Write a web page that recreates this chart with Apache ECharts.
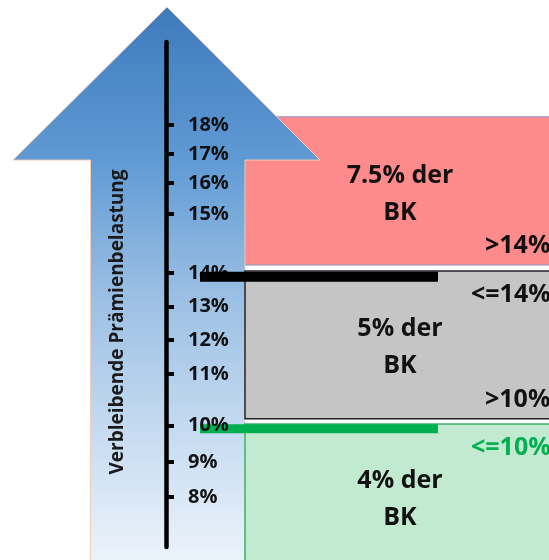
<!DOCTYPE html>
<html>
<head>
<meta charset="utf-8">
<script src="https://cdn.jsdelivr.net/npm/echarts@6/dist/echarts.min.js"></script>
<style>
html,body{margin:0;padding:0;background:#fff;}
#chart{width:549px;height:560px;}
</style>
</head>
<body>
<div id="chart"></div>
<script>
// ---- data ----
const tickLabels = ['8%','9%','10%','11%','12%','13%','14%','15%','16%','17%','18%'];
const tickLevels = [7.95, 8.90, 9.88, 11.28, 12.20, 13.10, 14.01, 15.61, 16.45, 17.23, 18.02];
const gaugeRange = [6.60, 20.26];

const boxText = ['7.5% der\nBK', '5% der\nBK', '4% der\nBK'];
const boxTop = [18.24, 14.07, 9.93];
const boxBottom = [14.23, 10.07, 6.03];
const upperLabels = ['', '<=14%', '<=10%'];
const lowerLabels = ['>14%', '>10%', ''];

const thresholdLevels = [13.91, 9.80];
const barSpan = [200, 438];
const boxSpan = [245, 555];

const arrowX = [13, 90.5, 167, 245, 320];
const arrowLevels = [21.21, 17.07, 6.0];

const axisTitle = 'Verbleibende Prämienbelastung';

// ---- styles ----
const FONT = '"Open Sans", "Noto Sans", sans-serif';
const boxFill = ['#fe8b8b', '#c5c5c5', '#c2ead1'];
const boxStroke = ['#8c96c8', '#222222', '#3cb26a'];
const boxLineW = [1, 1.5, 1.5];
const upperColor = ['#111', '#111', '#00b050'];

const chart = echarts.init(document.getElementById('chart'), null, {renderer: 'canvas'});

function renderBox(params, api) {
  const i = api.value(0);
  const p0 = api.coord([boxSpan[0], boxTop[i]]);
  const p1 = api.coord([boxSpan[1], boxBottom[i]]);
  const cx = (p0[0] + p1[0]) / 2, cy = (p0[1] + p1[1]) / 2 + 3;
  const children = [{
    type: 'rect',
    shape: {x: p0[0], y: p0[1], width: p1[0] - p0[0], height: p1[1] - p0[1]},
    style: {fill: boxFill[i], stroke: boxStroke[i], lineWidth: boxLineW[i]}
  }, {
    type: 'text',
    style: {text: boxText[i], x: cx, y: cy, align: 'center', verticalAlign: 'middle',
      fontFamily: FONT, fontWeight: 700, fontSize: 25, lineHeight: 37, fill: '#111'}
  }];
  if (upperLabels[i]) {
    children.push({type: 'text', style: {text: upperLabels[i], x: p0[0] + 226, y: p0[1] + 24,
      align: 'left', verticalAlign: 'middle', fontFamily: FONT, fontWeight: 700, fontSize: 25, fill: upperColor[i]}});
  }
  if (lowerLabels[i]) {
    children.push({type: 'text', style: {text: lowerLabels[i], x: p0[0] + 240, y: p1[1] - 19,
      align: 'left', verticalAlign: 'middle', fontFamily: FONT, fontWeight: 700, fontSize: 25, fill: '#111'}});
  }
  return {type: 'group', children};
}

function renderArrow(params, api) {
  const pts = [
    [arrowX[2], arrowLevels[0]],
    [arrowX[4], arrowLevels[1]],
    [arrowX[3], arrowLevels[1]],
    [arrowX[3], arrowLevels[2]],
    [arrowX[1], arrowLevels[2]],
    [arrowX[1], arrowLevels[1]],
    [arrowX[0], arrowLevels[1]]
  ].map(p => api.coord(p));
  return {
    type: 'polygon',
    shape: {points: pts},
    style: {
      fill: new echarts.graphic.LinearGradient(0, 0, 0, 1, [
        {offset: 0, color: '#3e79bc'},
        {offset: 0.27, color: '#5f9ad4'},
        {offset: 0.5, color: '#98bde3'},
        {offset: 0.78, color: '#cadef2'},
        {offset: 1, color: '#eef4fb'}
      ]),
      stroke: '#f2cdb8', lineWidth: 1
    }
  };
}

function nearestLabel(v) {
  let best = 0, d = Infinity;
  tickLevels.forEach((t, i) => { const dd = Math.abs(t - v); if (dd < d) { d = dd; best = i; } });
  return tickLabels[best];
}

const option = {
  animation: false,
  backgroundColor: '#ffffff',
  grid: [
    {left: 0, top: 0, width: 549, height: 560},
    {left: 166, top: 42, width: 20, height: 505}
  ],
  xAxis: [
    {gridIndex: 0, type: 'value', min: 0, max: 549, show: false},
    {gridIndex: 1, type: 'value', min: 0, max: 1, show: false}
  ],
  yAxis: [
    {gridIndex: 0, type: 'value', min: 6.25, max: 21.4, show: false},
    {
      gridIndex: 1, type: 'value', min: gaugeRange[0], max: gaugeRange[1], position: 'left', z: 5,
      axisLine: {show: true, lineStyle: {color: '#000', width: 4.5}},
      axisTick: {show: true, inside: true, length: 8, lineStyle: {color: '#000', width: 4}, customValues: tickLevels},
      axisLabel: {show: true, inside: true, margin: 22, customValues: tickLevels, formatter: nearestLabel,
        fontFamily: FONT, fontWeight: 700, fontSize: 20, color: '#111'},
      splitLine: {show: false}
    }
  ],
  graphic: [{
    type: 'text', x: 118, y: 322, rotation: Math.PI / 2, z: 10,
    style: {text: axisTitle, align: 'center', verticalAlign: 'middle',
      fontFamily: FONT, fontWeight: 700, fontSize: 19, fill: '#1a1a1a'}
  }],
  series: [
    {type: 'custom', xAxisIndex: 0, yAxisIndex: 0, z: 1, silent: true, clip: false,
      renderItem: renderBox, data: [[0]]},
    {type: 'custom', xAxisIndex: 0, yAxisIndex: 0, z: 2, silent: true, clip: false,
      renderItem: renderArrow, data: [[0]]},
    {type: 'custom', xAxisIndex: 0, yAxisIndex: 0, z: 3, silent: true, clip: false,
      renderItem: renderBox, data: [[1], [2]]},
    {type: 'line', xAxisIndex: 0, yAxisIndex: 0, z: 4, silent: true, symbol: 'none',
      lineStyle: {color: '#00b050', width: 9, cap: 'butt'},
      data: [[barSpan[0], thresholdLevels[1]], [barSpan[1], thresholdLevels[1]]]},
    {type: 'line', xAxisIndex: 0, yAxisIndex: 0, z: 6, silent: true, symbol: 'none',
      lineStyle: {color: '#000', width: 10, cap: 'butt'},
      data: [[barSpan[0], thresholdLevels[0]], [barSpan[1], thresholdLevels[0]]]}
  ]
};
chart.setOption(option);
</script>
</body>
</html>
